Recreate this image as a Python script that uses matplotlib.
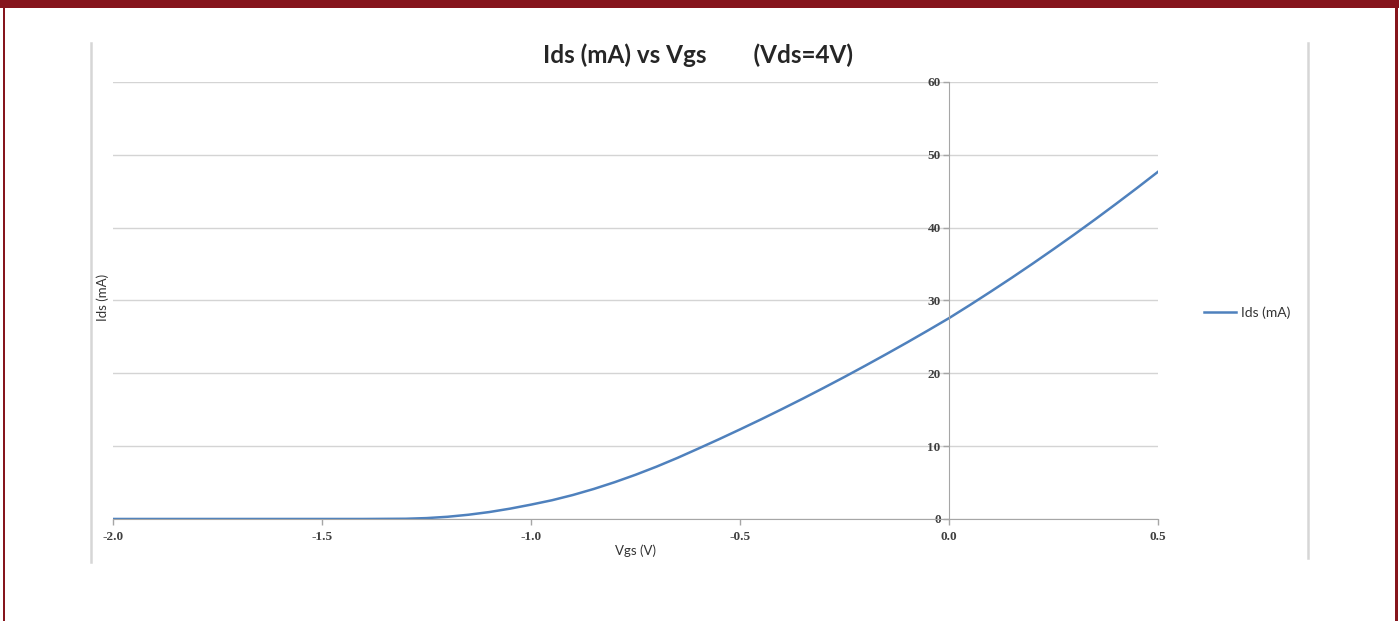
import numpy as np
import matplotlib
matplotlib.use("Agg")
import matplotlib.pyplot as plt
from matplotlib.lines import Line2D
from matplotlib.patches import Rectangle

# Ids (mA), Vds = 4 V
vgs = [-2.0, -1.9, -1.8, -1.7, -1.6, -1.5, -1.4, -1.3, -1.25, -1.2, -1.15,
       -1.1, -1.05, -1.0, -0.95, -0.9, -0.85, -0.8, -0.75, -0.7, -0.65,
       -0.6, -0.55, -0.5, -0.45, -0.4, -0.35, -0.3, -0.25, -0.2, -0.15,
       -0.1, -0.05, 0.0, 0.05, 0.1, 0.15, 0.2, 0.25, 0.3, 0.35,
       0.4, 0.45, 0.5]
ids = [0.0, 0.0, 0.0, 0.0, 0.0, 0.0, 0.0, 0.03, 0.12, 0.3, 0.58,
       0.95, 1.42, 1.97, 2.57, 3.29, 4.12, 5.05, 6.07, 7.18, 8.38,
       9.66, 10.96, 12.3, 13.67, 15.08, 16.52, 18.0, 19.51, 21.06, 22.64,
       24.25, 25.9, 27.58, 29.38, 31.23, 33.12, 35.06, 37.05, 39.08, 41.16,
       43.29, 45.46, 47.68]

xticks = [-2.0, -1.5, -1.0, -0.5, 0.0, 0.5]
yticks = [0, 10, 20, 30, 40, 50, 60]

fig = plt.figure(figsize=(13.99, 6.21), dpi=100)
ax = fig.add_axes([0.0808, 0.1643, 0.7470, 0.7037])

line, = ax.plot(vgs, ids, color='#4f81bd', lw=1.8, label='Ids (mA)')

ax.set_xlim(-2.0, 0.5)
ax.set_ylim(0, 60)
ax.set_xticks(xticks)
ax.set_xticklabels(['%.1f' % v for v in xticks])
ax.set_yticks(yticks)
ax.grid(axis='y', color='#d4d4d4', lw=1.0)
ax.set_axisbelow(True)

for s in ['top', 'right']:
    ax.spines[s].set_visible(False)
ax.spines['left'].set_position(('data', 0))
ax.spines['left'].set_color('#a6a6a6')
ax.spines['bottom'].set_color('#a6a6a6')
ax.tick_params(axis='both', colors='#a6a6a6', length=4, width=1,
               labelcolor='#404040', labelsize=9.5)
for t in ax.get_xticklabels() + ax.get_yticklabels():
    t.set_family('Liberation Serif')
    t.set_fontweight('bold')
ax.tick_params(axis='x', pad=5)
ax.tick_params(axis='y', pad=2)

fig.text(0.4989, 0.9115, 'Ids (mA) vs Vgs        (Vds=4V)', ha='center', va='center',
         fontsize=17.5, fontweight='bold', family='Lato', color='#262626')
fig.text(0.4546, 0.1127, 'Vgs (V)', ha='center', va='center', fontsize=9.5,
         family='Lato', color='#333333')
fig.text(0.0735, 0.5217, 'Ids (mA)', ha='center', va='center', fontsize=9.5,
         family='Lato', color='#333333', rotation=90)

leg = fig.legend(handles=[line], loc='center left', bbox_to_anchor=(0.852, 0.496),
                 frameon=False, handlelength=2.3, handletextpad=0.3,
                 prop={'family': 'Lato', 'size': 10})
for t in leg.get_texts():
    t.set_color('#333333')

# chart area side borders
fig.add_artist(Line2D([91 / 1399, 91 / 1399], [1 - 43 / 621, 1 - 562 / 621],
                      transform=fig.transFigure, color='#d6d6d6', lw=1.8))
fig.add_artist(Line2D([1308 / 1399, 1308 / 1399], [1 - 43 / 621, 1 - 558 / 621],
                      transform=fig.transFigure, color='#d6d6d6', lw=1.8))

# dark red frame
red = '#86151d'
fig.add_artist(Rectangle((0, 1 - 8 / 621), 1, 8 / 621, transform=fig.transFigure,
                         color=red, lw=0))
fig.add_artist(Rectangle((3 / 1399, 0), 2 / 1399, 1, transform=fig.transFigure,
                         color=red, lw=0))
fig.add_artist(Rectangle((1395 / 1399, 0), 3 / 1399, 1, transform=fig.transFigure,
                         color=red, lw=0))

fig.savefig('out.png', dpi=100)
